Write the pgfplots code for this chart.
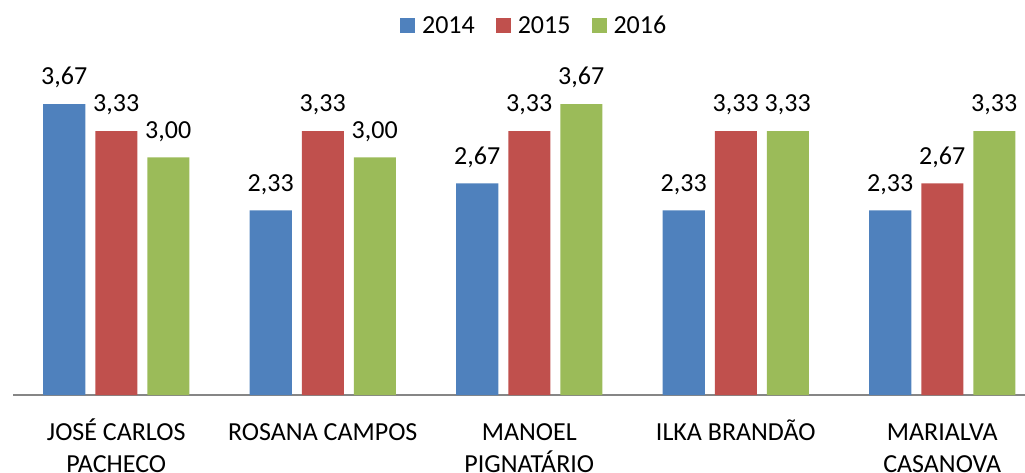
\documentclass[border=0pt]{standalone}
\usepackage{pgfplots}
\pgfplotsset{compat=1.18}
\usepackage{fontspec}
\setmainfont{Carlito}
\definecolor{c14}{HTML}{4F81BD}
\definecolor{c15}{HTML}{C0504D}
\definecolor{c16}{HTML}{9BBB59}
\definecolor{axgray}{HTML}{868686}
\newcommand{\bigf}{\fontsize{26}{32}\selectfont}
\newcommand{\tl}{\rule{0pt}{22pt}}
\begin{document}
\begin{tikzpicture}
\begin{axis}[
  at={(13pt,77pt)}, anchor=south west,
  scale only axis, width=1012pt, height=317pt,
  xmin=-0.5, xmax=4.4007, ymin=0, ymax=4,
  clip=false,
  ybar=10pt, bar width=42pt,
  axis x line*=bottom, axis y line=none,
  x axis line style={-, draw=axgray, line width=1.3pt},
  xtick={0,1,2,3,4},
  xticklabels={{\tl JOSÉ CARLOS\\PACHECO},{\tl ROSANA CAMPOS},{\tl MANOEL\\PIGNATÁRIO},{\tl ILKA BRANDÃO},{\tl MARIALVA\\CASANOVA}},
  xtick style={draw=none}, major tick length=0pt,
  xticklabel style={align=center, font=\bigf, anchor=north, yshift=-23pt, inner sep=0pt},
  /pgf/number format/assume math mode=true,
  nodes near coords={\pgfmathprintnumber[fixed,fixed zerofill,precision=2,use comma]{\pgfplotspointmeta}},
  every node near coord/.append style={font=\bigf, text=black, anchor=south, inner sep=0pt, text depth=0pt, yshift=19pt},
  legend columns=3,
  legend image code/.code={\fill[#1] (0pt,-7.5pt) rectangle (15pt,7.5pt);},
  legend style={at={(axis description cs:0.514,1.167)}, anchor=center, draw=none, fill=none, font=\bigf,
    nodes={inner sep=0pt, text height=17pt, text depth=0pt},
    cells={anchor=west},
    /tikz/every odd column/.append style={column sep=7pt},
    /tikz/every even column/.append style={column sep=21pt}},
]
\addplot[fill=c14, draw=none] coordinates {(0,3.67) (1,2.33) (2,2.67) (3,2.33) (4,2.33)};
\addplot[fill=c15, draw=none] coordinates {(0,3.33) (1,3.33) (2,3.33) (3,3.33) (4,2.67)};
\addplot[fill=c16, draw=none] coordinates {(0,3.00) (1,3.00) (2,3.67) (3,3.33) (4,3.33)};
\legend{2014,2015,2016}
\end{axis}
\pgfresetboundingbox
\useasboundingbox (0,0) rectangle (1025pt,472pt);
\end{tikzpicture}
\end{document}
